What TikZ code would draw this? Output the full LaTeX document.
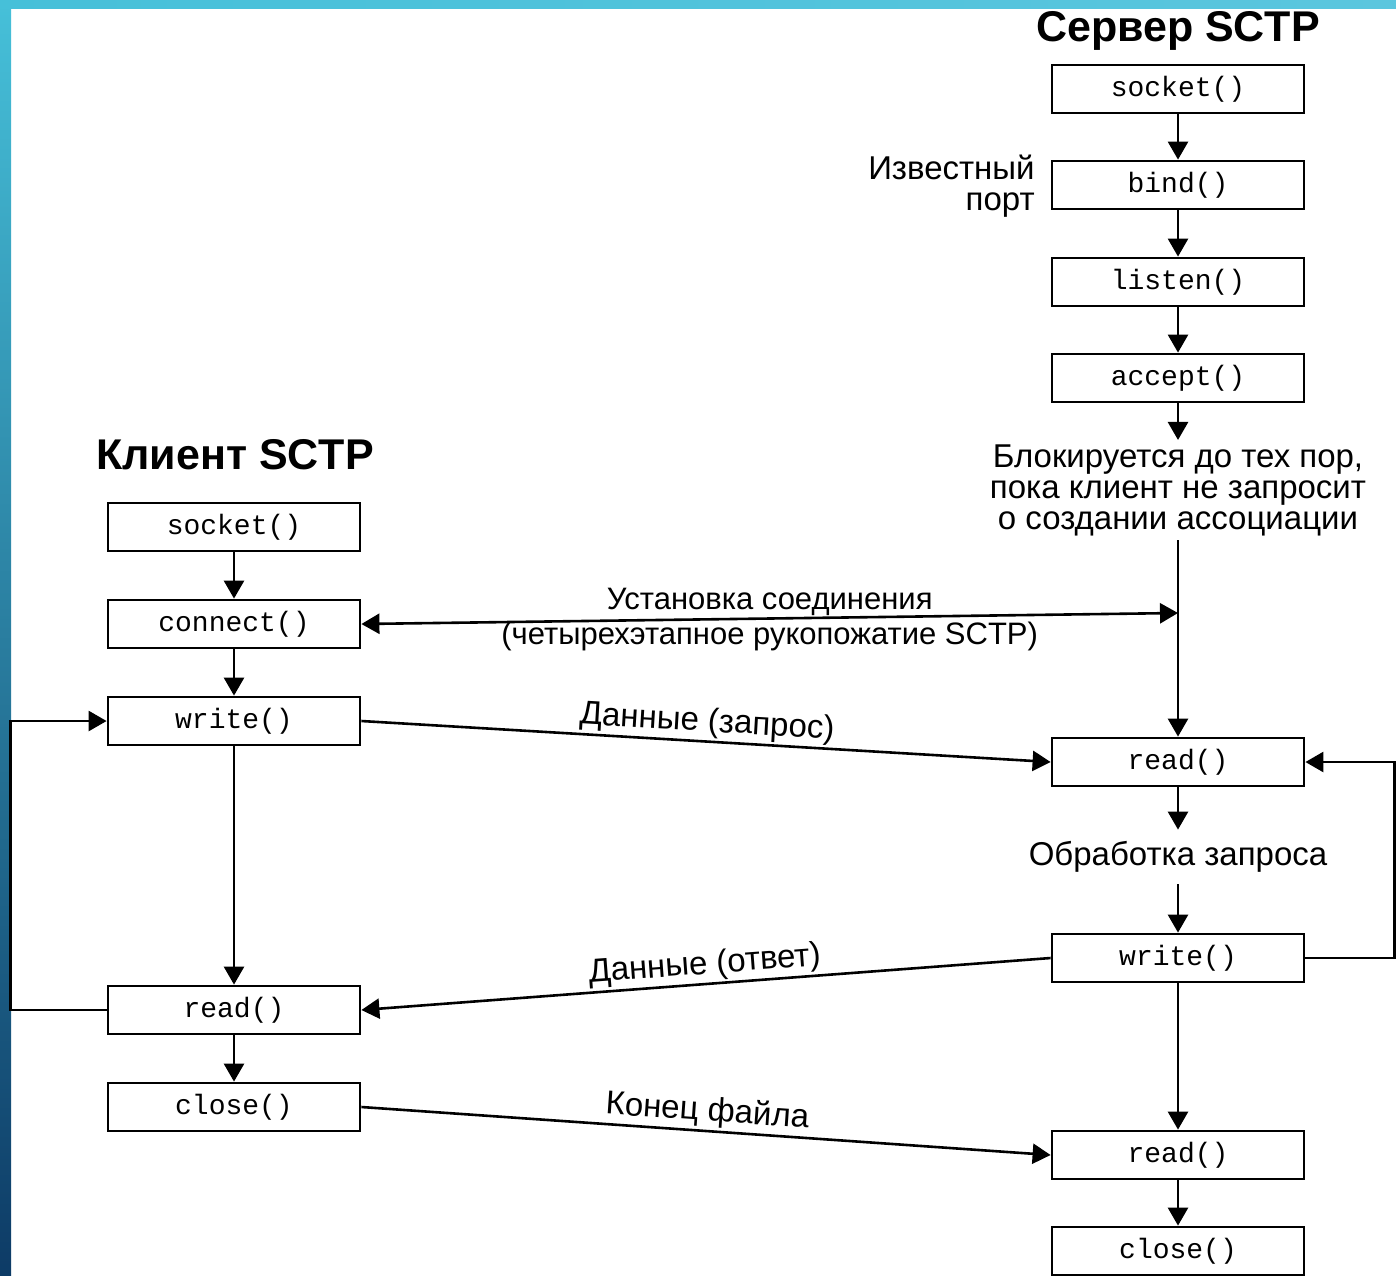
\documentclass[tikz,border=0pt]{standalone}
\usepackage{fontspec}
\setmainfont{Liberation Sans}
\setmonofont{Liberation Mono}
\usetikzlibrary{arrows.meta}

\definecolor{stripetop}{HTML}{46C0D9}
\definecolor{stripebot}{HTML}{0D3B66}
\definecolor{stripelight}{HTML}{5BC6DE}

\begin{document}
\begin{tikzpicture}[x=0.5pt,y=-0.5pt,
    call/.style={draw,line width=1.4pt,minimum width=126pt,minimum height=24pt,inner sep=0pt,font=\ttfamily\fontsize{14}{14}\selectfont},
    title/.style={font=\bfseries\fontsize{21.5}{21.5}\selectfont},
    lbl/.style={font=\fontsize{16.5}{15.5}\selectfont,align=center,inner sep=1pt},
    flow/.style={line width=1.3pt,-{Triangle[length=9pt,width=10pt]}},
    both/.style={line width=1.3pt,{Triangle[length=9pt,width=10pt]}-{Triangle[length=9pt,width=10pt]}}]
      \useasboundingbox (0,0) rectangle (1396,1275);
      \fill[white] (0,0) rectangle (1396,1275);
      \shade[top color=stripetop,bottom color=stripebot] (0,0) rectangle (11,1275);
      \shade[left color=stripetop,right color=stripelight] (0,0) rectangle (1396,8);
      % server side
      \node[title] (stitle) at (1178,31) {Сервер SCTP};
      \node[call] (ssocket) at (1178,89) {socket()};
      \node[call] (sbind) at (1178,185) {bind()};
      \node[call] (slisten) at (1178,282) {listen()};
      \node[call] (saccept) at (1178,378) {accept()};
      \node[lbl,align=right,anchor=east] (port) at (1037,186) {Известный\\порт};
      \node[lbl,inner ysep=2pt] (block) at (1178,490) {Блокируется до тех пор,\\пока клиент не запросит\\о создании ассоциации};
      \node[call] (sread) at (1178,762) {read()};
      \node[lbl,minimum height=27pt] (proc) at (1178,857) {Обработка запроса};
      \node[call] (swrite) at (1178,958) {write()};
      \node[call] (sread2) at (1178,1155) {read()};
      \node[call] (sclose) at (1178,1251) {close()};
      \coordinate (hand) at (1178,613);
      % client side
      \node[title] (ctitle) at (235,455) {Клиент SCTP};
      \node[call] (csocket) at (234,527) {socket()};
      \node[call] (cconnect) at (234,624) {connect()};
      \node[call] (cwrite) at (234,721) {write()};
      \node[call] (cread) at (234,1010) {read()};
      \node[call] (cclose) at (234,1107) {close()};
      % server flow
      \draw[flow] (ssocket) -- (sbind);
      \draw[flow] (sbind) -- (slisten);
      \draw[flow] (slisten) -- (saccept);
      \draw[flow] (saccept) -- (block.north);
      \draw[flow] (block.south) -- (sread);
      \draw[flow] (sread) -- (proc.north);
      \draw[flow] (proc.south) -- (swrite);
      \draw[flow] (swrite) -- (sread2);
      \draw[flow] (sread2) -- (sclose);
      \draw[flow] (swrite.east) -- ++(89,0) |- (sread.east);
      % client flow
      \draw[flow] (csocket) -- (cconnect);
      \draw[flow] (cconnect) -- (cwrite);
      \draw[flow] (cwrite) -- (cread);
      \draw[flow] (cread) -- (cclose);
      \draw[flow] (cread.west) -- ++(-96,0) |- (cwrite.west);
      % between client and server
      \draw[both] (cconnect.east) -- node[lbl,font=\fontsize{15.5}{15.5}\selectfont,inner sep=0pt,above=1pt] {Установка соединения}
        node[lbl,font=\fontsize{15.5}{15.5}\selectfont,inner sep=0pt,below=1pt] {(четырехэтапное рукопожатие SCTP)} (hand);
      \draw[flow] (cwrite.east) -- node[lbl,sloped,above] {Данные (запрос)} (sread.west);
      \draw[flow] (swrite.west) -- node[lbl,sloped,above] {Данные (ответ)} (cread.east);
      \draw[flow] (cclose.east) -- node[lbl,sloped,above] {Конец файла} (sread2.west);
    \end{tikzpicture}
\end{document}
